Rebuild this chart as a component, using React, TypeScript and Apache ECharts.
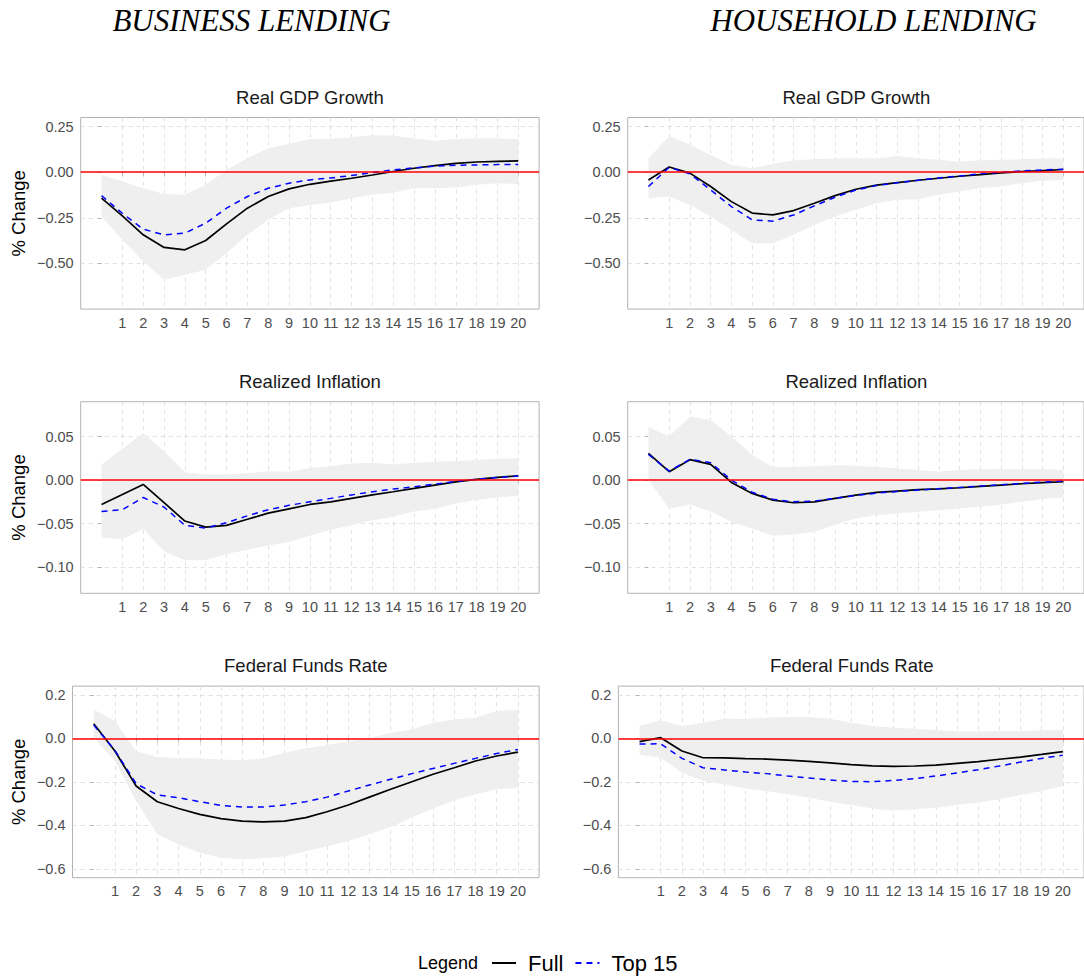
import { useEffect, useRef } from "react";
import * as echarts from "echarts";

// horizons (quarters after the shock)
const horizon = [0, 1, 2, 3, 4, 5, 6, 7, 8, 9, 10, 11, 12, 13, 14, 15, 16, 17, 18, 19, 20];
const xTicks = [1, 2, 3, 4, 5, 6, 7, 8, 9, 10, 11, 12, 13, 14, 15, 16, 17, 18, 19, 20];

// Business lending - Real GDP growth
const bizGdpFull = [-0.142, -0.239, -0.343, -0.412, -0.425, -0.374, -0.283, -0.197, -0.133, -0.091, -0.066, -0.049, -0.033, -0.015, 0.004, 0.022, 0.036, 0.049, 0.056, 0.06, 0.062];
const bizGdpTop15 = [-0.128, -0.225, -0.312, -0.343, -0.334, -0.279, -0.197, -0.133, -0.088, -0.06, -0.042, -0.031, -0.018, -0.002, 0.013, 0.024, 0.033, 0.038, 0.04, 0.042, 0.042];
const bizGdpUpper = [-0.015, -0.05, -0.088, -0.119, -0.124, -0.069, 0.013, 0.077, 0.131, 0.155, 0.182, 0.184, 0.192, 0.204, 0.2, 0.186, 0.172, 0.182, 0.186, 0.186, 0.182];
const bizGdpLower = [-0.243, -0.37, -0.489, -0.589, -0.562, -0.535, -0.443, -0.343, -0.261, -0.197, -0.179, -0.166, -0.142, -0.124, -0.111, -0.088, -0.088, -0.084, -0.069, -0.06, -0.064];

// Household lending - Real GDP growth
const hhGdpFull = [-0.042, 0.029, -0.005, -0.078, -0.161, -0.224, -0.234, -0.21, -0.17, -0.128, -0.093, -0.071, -0.057, -0.044, -0.033, -0.022, -0.013, -0.004, 0.004, 0.009, 0.015];
const hhGdpTop15 = [-0.078, 0.027, -0.009, -0.097, -0.188, -0.261, -0.268, -0.234, -0.184, -0.137, -0.097, -0.073, -0.058, -0.044, -0.031, -0.02, -0.009, 0.0, 0.007, 0.013, 0.016];
const hhGdpUpper = [0.077, 0.199, 0.15, 0.095, 0.04, 0.022, 0.046, 0.064, 0.073, 0.075, 0.077, 0.075, 0.089, 0.077, 0.068, 0.058, 0.066, 0.068, 0.071, 0.077, 0.075];
const hhGdpLower = [-0.142, -0.133, -0.179, -0.243, -0.316, -0.389, -0.389, -0.343, -0.288, -0.243, -0.206, -0.17, -0.151, -0.148, -0.124, -0.106, -0.088, -0.078, -0.06, -0.047, -0.042];

// Business lending - Realized inflation
const bizInfFull = [-0.028, -0.0165, -0.005, -0.026, -0.047, -0.054, -0.052, -0.045, -0.038, -0.033, -0.028, -0.025, -0.021, -0.017, -0.0134, -0.0096, -0.0057, -0.002, 0.0008, 0.003, 0.005];
const bizInfTop15 = [-0.036, -0.034, -0.02, -0.031, -0.052, -0.055, -0.049, -0.041, -0.034, -0.029, -0.025, -0.021, -0.017, -0.0134, -0.0103, -0.0077, -0.0046, -0.0015, 0.001, 0.003, 0.0046];
const bizInfUpper = [0.018, 0.036, 0.054, 0.033, 0.009, 0.006, 0.006, 0.008, 0.01, 0.0096, 0.014, 0.016, 0.019, 0.02, 0.018, 0.02, 0.021, 0.022, 0.023, 0.0245, 0.025];
const bizInfLower = [-0.066, -0.068, -0.056, -0.082, -0.092, -0.092, -0.085, -0.08, -0.075, -0.071, -0.064, -0.057, -0.052, -0.046, -0.042, -0.036, -0.033, -0.027, -0.023, -0.02, -0.018];

// Household lending - Realized inflation
const hhInfFull = [0.0307, 0.0096, 0.0234, 0.018, -0.0027, -0.0153, -0.023, -0.026, -0.025, -0.021, -0.0172, -0.0142, -0.0126, -0.011, -0.01, -0.0088, -0.0073, -0.0057, -0.0042, -0.003, -0.0019];
const hhInfTop15 = [0.0295, 0.0103, 0.0238, 0.02, 0.0, -0.014, -0.022, -0.025, -0.024, -0.021, -0.0176, -0.015, -0.013, -0.0115, -0.01, -0.0084, -0.0069, -0.0054, -0.0038, -0.0023, -0.0011];
const hhInfUpper = [0.061, 0.05, 0.073, 0.069, 0.05, 0.029, 0.015, 0.015, 0.016, 0.017, 0.0165, 0.015, 0.0134, 0.0115, 0.0096, 0.0115, 0.0123, 0.0126, 0.0123, 0.0123, 0.012];
const hhInfLower = [0.0, -0.0326, -0.028, -0.036, -0.048, -0.0556, -0.064, -0.0625, -0.0594, -0.051, -0.044, -0.04, -0.0383, -0.0364, -0.0345, -0.0326, -0.0307, -0.028, -0.025, -0.0218, -0.02];

// Business lending - Federal funds rate
const bizFfrFull = [0.067, -0.058, -0.219, -0.291, -0.322, -0.349, -0.369, -0.38, -0.384, -0.38, -0.364, -0.337, -0.306, -0.27, -0.234, -0.199, -0.165, -0.135, -0.104, -0.081, -0.063];
const bizFfrTop15 = [0.061, -0.055, -0.208, -0.26, -0.273, -0.291, -0.308, -0.315, -0.315, -0.306, -0.291, -0.27, -0.242, -0.214, -0.188, -0.162, -0.138, -0.115, -0.092, -0.07, -0.051];
const bizFfrUpper = [0.133, 0.08, -0.058, -0.086, -0.09, -0.093, -0.097, -0.101, -0.092, -0.066, -0.046, -0.031, -0.015, 0.0, 0.026, 0.041, 0.072, 0.087, 0.095, 0.126, 0.13];
const bizFfrLower = [0.003, -0.104, -0.288, -0.441, -0.487, -0.525, -0.548, -0.556, -0.551, -0.541, -0.518, -0.495, -0.472, -0.441, -0.407, -0.364, -0.322, -0.285, -0.257, -0.234, -0.227];

// Household lending - Federal funds rate
const hhFfrFull = [-0.015, 0.003, -0.058, -0.089, -0.09, -0.093, -0.095, -0.1, -0.106, -0.113, -0.121, -0.126, -0.129, -0.127, -0.123, -0.115, -0.107, -0.096, -0.086, -0.074, -0.061];
const hhFfrTop15 = [-0.026, -0.025, -0.092, -0.135, -0.145, -0.155, -0.162, -0.173, -0.182, -0.191, -0.198, -0.199, -0.193, -0.185, -0.173, -0.159, -0.144, -0.127, -0.109, -0.092, -0.077];
const hhFfrUpper = [0.057, 0.083, 0.057, 0.072, 0.09, 0.089, 0.095, 0.098, 0.098, 0.09, 0.072, 0.057, 0.049, 0.044, 0.038, 0.031, 0.031, 0.034, 0.034, 0.037, 0.04];
const hhFfrLower = [-0.074, -0.089, -0.158, -0.196, -0.211, -0.23, -0.242, -0.257, -0.273, -0.291, -0.306, -0.322, -0.331, -0.326, -0.319, -0.306, -0.295, -0.28, -0.26, -0.242, -0.219];

const columnTitles = ["BUSINESS LENDING", "HOUSEHOLD LENDING"];
const rowTitles = ["Real GDP Growth", "Realized Inflation", "Federal Funds Rate"];
const yTicksGdp = [-0.5, -0.25, 0, 0.25];
const yTicksInf = [-0.1, -0.05, 0, 0.05];
const yTicksFfr = [-0.6, -0.4, -0.2, 0, 0.2];
const seriesNames = ["Full", "Top 15"];

const SANS = "'Liberation Sans', Arial, sans-serif";
const GRID_GREY = "#b3b3b3";

const rows = [
  { ticks: yTicksGdp, min: -0.75, max: 0.3, step: 0.25, dec: 2, top: 117.5 },
  { ticks: yTicksInf, min: -0.13, max: 0.09, step: 0.05, dec: 2, top: 401.7 },
  { ticks: yTicksFfr, min: -0.64, max: 0.24, step: 0.2, dec: 1, top: 686.1 },
];
const ROW_H = 191.6;

const panels = [
  { row: 0, col: 0, full: bizGdpFull, top15: bizGdpTop15, upper: bizGdpUpper, lower: bizGdpLower },
  { row: 0, col: 1, full: hhGdpFull, top15: hhGdpTop15, upper: hhGdpUpper, lower: hhGdpLower },
  { row: 1, col: 0, full: bizInfFull, top15: bizInfTop15, upper: bizInfUpper, lower: bizInfLower },
  { row: 1, col: 1, full: hhInfFull, top15: hhInfTop15, upper: hhInfUpper, lower: hhInfLower },
  { row: 2, col: 0, full: bizFfrFull, top15: bizFfrTop15, upper: bizFfrUpper, lower: bizFfrLower },
  { row: 2, col: 1, full: hhFfrFull, top15: hhFfrTop15, upper: hhFfrUpper, lower: hhFfrLower },
];

const pairs = (ys: number[]) => horizon.map((h, i) => [h, ys[i]]);
const fmt = (dec: number) => (v: number) => (v < 0 ? "\u2212" : "") + Math.abs(v).toFixed(dec);

function panelBox(row: number, col: number) {
  const left = col === 0 ? (row < 2 ? 80.7 : 72.5) : row < 2 ? 627.7 : 618.4;
  const right = col === 0 ? 539.1 : 1085;
  return { left, width: right - left, top: rows[row].top, height: ROW_H };
}

export default function App() {
  const chartRef = useRef<HTMLDivElement | null>(null);

  useEffect(() => {
    if (!chartRef.current) return;
    const chart = echarts.init(chartRef.current, undefined, { renderer: "svg" });

    const grids: any[] = [];
    const xAxes: any[] = [];
    const yAxes: any[] = [];
    const series: any[] = [];
    const titles: any[] = [];

    titles.push(
      ...columnTitles.map((t, i) => ({
        text: t,
        left: i === 0 ? 251.5 : 873.5,
        top: 20.2,
        textAlign: "center",
        textVerticalAlign: "middle",
        padding: 0,
        textStyle: { fontFamily: "'Liberation Serif', 'Times New Roman', serif", fontStyle: "italic", fontWeight: "normal", fontSize: 31, color: "#000" },
      }))
    );

    panels.forEach((p, i) => {
      const r = rows[p.row];
      const box = panelBox(p.row, p.col);
      grids.push({ ...box, show: true, borderColor: GRID_GREY, borderWidth: 1, backgroundColor: "transparent", containLabel: false });
      titles.push({
        text: rowTitles[p.row],
        left: box.left + box.width / 2,
        top: box.top - 20.3,
        textAlign: "center",
        textVerticalAlign: "middle",
        padding: 0,
        textStyle: { fontFamily: SANS, fontWeight: "normal", fontSize: 18.5, color: "#1a1a1a" },
      });
      xAxes.push({
        type: "value",
        gridIndex: i,
        min: -1,
        max: 21,
        interval: 1,
        axisLine: { show: false },
        axisTick: { show: true, length: 3.5, customValues: xTicks, lineStyle: { color: GRID_GREY } },
        axisLabel: { customValues: xTicks, color: "#4d4d4d", fontFamily: SANS, fontSize: 14.5, margin: 6 },
        splitLine: { show: true, lineStyle: { color: "#dedede", type: [4, 4], width: 0.9 } },
      });
      yAxes.push({
        type: "value",
        gridIndex: i,
        min: r.min,
        max: r.max,
        minInterval: r.step,
        maxInterval: r.step,
        name: p.col === 0 ? "% Change" : "",
        nameLocation: "middle",
        nameRotate: 90,
        nameGap: box.left - 28,
        nameTextStyle: { fontFamily: SANS, fontSize: 18.5, color: "#000" },
        axisLine: { show: false },
        axisTick: { show: true, length: 3.5, customValues: r.ticks, lineStyle: { color: GRID_GREY } },
        axisLabel: { customValues: r.ticks, color: "#4d4d4d", fontFamily: SANS, fontSize: 14.5, margin: 7, formatter: fmt(r.dec) },
        splitLine: { show: true, lineStyle: { color: "#dedede", type: [4, 4], width: 0.9 } },
      });

      // confidence band: polygon through upper points, back along lower points
      const upper = p.upper;
      const lower = p.lower;
      series.push(
        {
          type: "custom",
          name: "band",
          xAxisIndex: i,
          yAxisIndex: i,
          silent: true,
          clip: true,
          z: 1,
          data: horizon.map((h, k) => [h, lower[k], upper[k]]),
          encode: { x: 0, y: [1, 2] },
          renderItem: (params: any, api: any) => {
            if (params.dataIndex !== 0) return null;
            const top = horizon.map((h, k) => api.coord([h, upper[k]]));
            const bottom = horizon.map((h, k) => api.coord([h, lower[k]])).reverse();
            return {
              type: "polygon",
              shape: { points: top.concat(bottom) },
              style: { fill: "#efefef", stroke: "none" },
            };
          },
        },
        {
          type: "line",
          name: "zero",
          xAxisIndex: i,
          yAxisIndex: i,
          data: [],
          z: 2,
          markLine: {
            silent: true,
            symbol: "none",
            label: { show: false },
            lineStyle: { color: "#ff0000", type: "solid", width: 1.6 },
            data: [{ yAxis: 0 }],
          },
        },
        {
          type: "line",
          name: seriesNames[0],
          xAxisIndex: i,
          yAxisIndex: i,
          data: pairs(p.full),
          symbol: "none",
          lineStyle: { color: "#000", width: 1.7, type: "solid" },
          itemStyle: { color: "#000" },
          z: 3,
        },
        {
          type: "line",
          name: seriesNames[1],
          xAxisIndex: i,
          yAxisIndex: i,
          data: pairs(p.top15),
          symbol: "none",
          lineStyle: { color: "#0000ff", width: 1.5, type: [6, 5] },
          itemStyle: { color: "#0000ff" },
          z: 4,
        }
      );
    });

    titles.push({
      text: "Legend",
      left: 418,
      top: 963,
      textVerticalAlign: "middle",
      textAlign: "left",
      padding: 0,
      textStyle: { fontFamily: SANS, fontWeight: "normal", fontSize: 18, color: "#000" },
    });

    chart.setOption({
      animation: false,
      backgroundColor: "#fff",
      title: titles,
      grid: grids,
      xAxis: xAxes,
      yAxis: yAxes,
      legend: {
        data: seriesNames,
        left: 491,
        top: 952,
        padding: 0,
        itemWidth: 24,
        itemHeight: 14,
        itemGap: 11,
        itemStyle: { color: "transparent", borderColor: "transparent", borderWidth: 0, opacity: 0 },
        textStyle: { fontFamily: SANS, fontSize: 22, color: "#000", padding: [0, 0, 0, 7] },
      },
      series,
    });

    return () => {
      chart.dispose();
    };
  }, []);

  return (
    <div
      ref={chartRef}
      style={{ position: "fixed", left: 0, top: 0, width: 1084, height: 978, background: "#fff" }}
    />
  );
}
